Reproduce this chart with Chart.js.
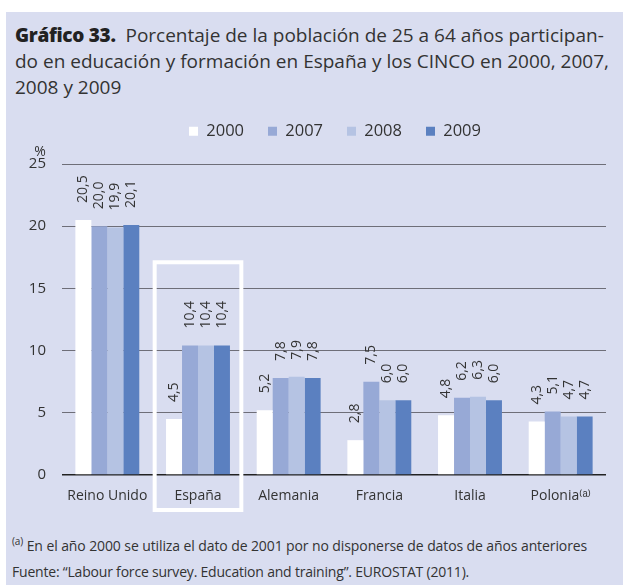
<!DOCTYPE html>
<html>
<head>
<meta charset="utf-8">
<script src="https://cdn.jsdelivr.net/npm/chart.js@4.4.1/dist/chart.umd.min.js"></script>
<style>
  html, body { margin: 0; padding: 0; background: #fff; }
  #panel {
    position: absolute; left: 6px; top: 12px; width: 617px; height: 573px;
    background: #d9ddf0; font-family: "Open Sans", sans-serif; color: #333;
  }
  #title {
    position: absolute; left: 9px; top: 10px; width: 612px;
    font-size: 19px; line-height: 26px; letter-spacing: 0; color: #333; white-space: nowrap;
  }
  #title b { color: #222; font-weight: 800; letter-spacing: -0.3px; }
  #chartBox { position: absolute; left: -6px; top: 87px; width: 623px; height: 426px; }
  .note { position: absolute; left: 6px; font-size: 14px; color: #333; white-space: nowrap; }
  .note sup { font-size: 10px; }
</style>
</head>
<body>
<div id="panel">
  <div id="title"><b>Gráfico 33.</b>&nbsp; Porcentaje de la población de 25 a 64 años participan-<br>do en educación y formación en España y los CINCO en 2000, 2007,<br>2008 y 2009</div>
  <div id="chartBox"><canvas id="chart" width="623" height="426"></canvas></div>
  <div class="note" style="top:522px; letter-spacing:-0.1px;"><sup>(a)</sup> En el año 2000 se utiliza el dato de 2001 por no disponerse de datos de años anteriores</div>
  <div class="note" style="top:550px; letter-spacing:-0.2px;">Fuente: “Labour force survey. Education and training”. EUROSTAT (2011).</div>
</div>
<script>
  const countries = ["Reino Unido", "España", "Alemania", "Francia", "Italia", "Polonia⁽ᵃ⁾"];
  const years = ["2000", "2007", "2008", "2009"];
  const v2000 = [20.5, 4.5, 5.2, 2.8, 4.8, 4.3];
  const v2007 = [20.0, 10.4, 7.8, 7.5, 6.2, 5.1];
  const v2008 = [19.9, 10.4, 7.9, 6.0, 6.3, 4.7];
  const v2009 = [20.1, 10.4, 7.8, 6.0, 6.0, 4.7];
  const yTicks = [0, 5, 10, 15, 20, 25];
  const colors = ["#ffffff", "#97a9d6", "#b5c3e3", "#5b80c0"];

  const series = [v2000, v2007, v2008, v2009];

  // more room under the legend, and nudge it right like the original
  const legendGap = {
    id: "legendGap",
    beforeInit(chart) {
      const lg = chart.legend;
      if (!lg) return;
      const fit = lg.fit;
      lg.fit = function () { fit.call(this); this.height += 14.5; };
      const draw = lg.draw;
      lg.draw = function () {
        chart.ctx.save();
        chart.ctx.translate(32, 0);
        draw.apply(this, arguments);
        chart.ctx.restore();
      };
    }
  };

  // value labels, rotated, above each bar
  const valueLabels = {
    id: "valueLabels",
    afterDatasetsDraw(chart) {
      const ctx = chart.ctx;
      ctx.save();
      ctx.font = "14px 'Open Sans', sans-serif";
      ctx.fillStyle = "#333";
      ctx.textAlign = "left";
      ctx.textBaseline = "middle";
      chart.data.datasets.forEach((ds, i) => {
        chart.getDatasetMeta(i).data.forEach((bar, j) => {
          const txt = ds.data[j].toFixed(1).replace(".", ",");
          ctx.save();
          ctx.translate(bar.x, bar.y - 17);
          ctx.rotate(-Math.PI / 2);
          ctx.fillText(txt, 0, 0);
          ctx.restore();
        });
      });
      ctx.restore();
    }
  };

  // white frame round España, plus the "%" unit
  const extras = {
    id: "extras",
    afterDraw(chart) {
      const ctx = chart.ctx;
      const x = chart.scales.x, y = chart.scales.y;
      const half = (x.getPixelForValue(1) - x.getPixelForValue(0)) / 2;
      const cx = x.getPixelForValue(1);
      const top = y.getPixelForValue(17.1);
      const bottom = y.getPixelForValue(0) + 35;
      ctx.save();
      ctx.strokeStyle = "#ffffff";
      ctx.lineWidth = 4;
      ctx.strokeRect(cx - half + 2, top, half * 2 - 4, bottom - top);
      ctx.fillStyle = "#333";
      ctx.font = "14px 'Open Sans', sans-serif";
      ctx.textAlign = "center";
      ctx.fillText("%", 40, y.getPixelForValue(25) - 12);
      ctx.restore();
    }
  };

  new Chart(document.getElementById("chart"), {
    type: "bar",
    data: {
      labels: countries,
      datasets: series.map((d, i) => ({
        label: years[i],
        data: d,
        backgroundColor: colors[i],
        borderWidth: 0
      }))
    },
    options: {
      responsive: false,
      animation: false,
      layout: { padding: { left: 0, right: 17, top: 0, bottom: 0 } },
      datasets: { bar: { categoryPercentage: 0.705, barPercentage: 1 } },
      plugins: {
        tooltip: { enabled: false },
        legend: {
          position: "top",
          labels: {
            boxWidth: 9, boxHeight: 9, padding: 24,
            color: "#333",
            font: { family: "'Open Sans', sans-serif", size: 16.5 }
          }
        }
      },
      scales: {
        x: {
          grid: { display: false },
          border: { display: false },
          ticks: { color: "#333", padding: 5, maxRotation: 0, font: { family: "'Open Sans', sans-serif", size: 14 } },
          afterFit(s) { s.height = 50; }
        },
        y: {
          min: 0, max: 25,
          afterBuildTicks(s) { s.ticks = yTicks.map(v => ({ value: v })); },
          grid: {
            drawTicks: false,
            color: ctx => ctx.tick.value === 0 ? "#222" : "#6e6e78",
            lineWidth: ctx => ctx.tick.value === 0 ? 1.5 : 1
          },
          border: { display: false },
          ticks: { color: "#333", padding: 16, font: { family: "'Open Sans', sans-serif", size: 15 } },
          afterFit(s) { s.width = 62; }
        }
      }
    },
    plugins: [legendGap, valueLabels, extras]
  });
</script>
</body>
</html>
